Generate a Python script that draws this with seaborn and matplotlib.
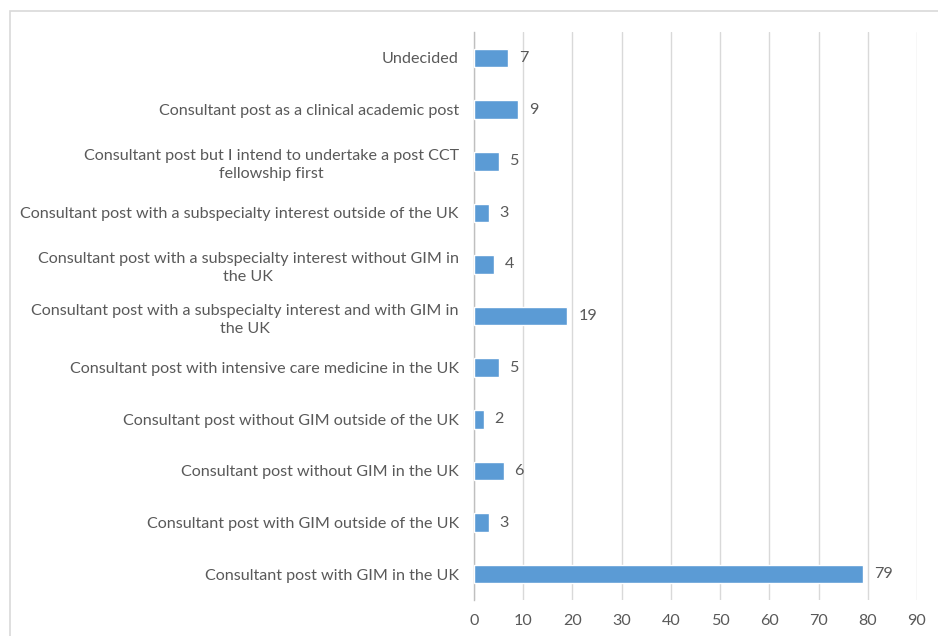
import pandas as pd
import matplotlib.pyplot as plt
import seaborn as sns
from matplotlib.patches import Rectangle

categories = [
    'Undecided',
    'Consultant post as a clinical academic post',
    'Consultant post but I intend to undertake a post CCT\nfellowship first',
    'Consultant post with a subspecialty interest outside of the UK',
    'Consultant post with a subspecialty interest without GIM in\nthe UK',
    'Consultant post with a subspecialty interest and with GIM in\nthe UK',
    'Consultant post with intensive care medicine in the UK',
    'Consultant post without GIM outside of the UK',
    'Consultant post without GIM in the UK',
    'Consultant post with GIM outside of the UK',
    'Consultant post with GIM in the UK',
]
counts = [7, 9, 5, 3, 4, 19, 5, 2, 6, 3, 79]
xticks = list(range(0, 100, 10))

df = pd.DataFrame({'category': categories, 'count': counts})

sns.set_style('white')
plt.rcParams['font.family'] = ['Lato', 'DejaVu Sans']

text_col = '#595959'
fs = 11.6
fig = plt.figure(figsize=(9.38, 6.36), dpi=100)
ax = fig.add_axes([0.5053, 0.0566, 0.4723, 0.8928])

sns.barplot(data=df, x='count', y='category', order=categories,
            color='#5B9BD5', saturation=1, width=0.36, ax=ax, zorder=3)

# value labels just right of each bar
for i, v in enumerate(counts):
    ax.text(v + 2.2, i, str(v), va='center', ha='left',
            fontsize=fs, color=text_col)

ax.set_xlim(0, 90)
ax.set_ylim(len(categories) - 0.5, -0.5)
ax.set_xticks(xticks)
ax.xaxis.grid(True, color='#D9D9D9', linewidth=1, zorder=0)
ax.yaxis.grid(False)
for s in ['top', 'right', 'bottom']:
    ax.spines[s].set_visible(False)
ax.spines['left'].set_color('#BFBFBF')
ax.spines['left'].set_linewidth(1)
ax.tick_params(axis='both', length=0, colors=text_col, labelsize=fs)
ax.tick_params(axis='y', pad=11)
ax.tick_params(axis='x', pad=10)
for lab in ax.get_yticklabels():
    lab.set_multialignment('center')
    lab.set_linespacing(1.4)
    lab.set_color(text_col)
ax.set_xlabel('')
ax.set_ylabel('')

# thin chart border, cut off at right and bottom like the original
fig.patches.append(Rectangle((10 / 938, -0.05), 1.2, 1 - 11.5 / 636 + 0.05,
                             transform=fig.transFigure, fill=False,
                             edgecolor='#D9D9D9', linewidth=1.2))

fig.savefig('out.png', dpi=100)
